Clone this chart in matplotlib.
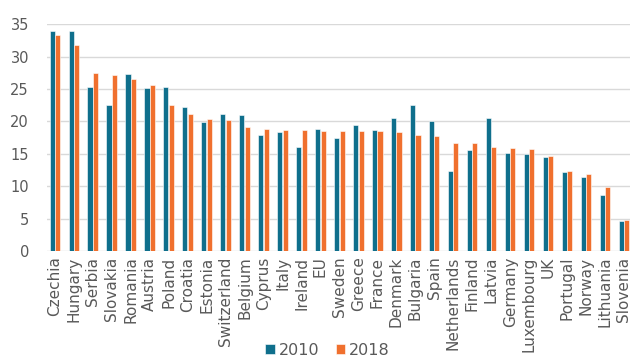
import matplotlib
matplotlib.use("Agg")
import matplotlib.pyplot as plt
import numpy as np

countries = ["Czechia", "Hungary", "Serbia", "Slovakia", "Romania", "Austria",
             "Poland", "Croatia", "Estonia", "Switzerland", "Belgium", "Cyprus",
             "Italy", "Ireland", "EU", "Sweden", "Greece", "France", "Denmark",
             "Bulgaria", "Spain", "Netherlands", "Finland", "Latvia", "Germany",
             "Luxembourg", "UK", "Portugal", "Norway", "Lithuania", "Slovenia"]

vals_2010 = [33.9, 34.0, 25.3, 22.6, 27.3, 25.2, 25.3, 22.3, 19.9, 21.2, 21.0,
             17.9, 18.4, 16.1, 18.8, 17.4, 19.5, 18.7, 20.6, 22.5, 20.1, 12.3,
             15.6, 20.5, 15.2, 14.9, 14.5, 12.2, 11.4, 8.6, 4.7]
vals_2018 = [33.4, 31.8, 27.5, 27.1, 26.5, 25.6, 22.6, 21.2, 20.4, 20.2, 19.2,
             18.9, 18.7, 18.7, 18.6, 18.5, 18.5, 18.5, 18.4, 17.9, 17.7, 16.6,
             16.6, 16.0, 15.9, 15.8, 14.7, 12.4, 11.9, 9.9, 4.8]

col_2010 = "#0f6f8c"
col_2018 = "#f0702e"
text_col = "#595959"

fig = plt.figure(figsize=(6.3, 3.58), dpi=100)
ax = fig.add_axes([47 / 630, 1 - 251 / 358, 583 / 630, (251 - 24.3) / 358])

x = np.arange(len(countries))
w = 0.27
ax.bar(x - 0.15, vals_2010, width=w, color=col_2010, edgecolor="white",
       linewidth=0.4, label="2010", zorder=3)
ax.bar(x + 0.14, vals_2018, width=w, color=col_2018, edgecolor="white",
       linewidth=0.4, label="2018", zorder=3)

ax.set_ylim(0, 35)
ax.set_xlim(-0.42, len(countries) - 1 + 0.32)
ax.set_yticks(range(0, 36, 5))
ax.set_xticks(x)
ax.set_xticklabels(countries, rotation=90, fontsize=11, color=text_col)
ax.tick_params(axis="y", labelsize=10.5, colors=text_col, length=0, pad=13)
ax.tick_params(axis="x", length=0, pad=4)
ax.grid(axis="y", color="#d9d9d9", linewidth=1, zorder=0)
for s in ax.spines.values():
    s.set_visible(False)

fig.legend(loc="lower center", bbox_to_anchor=(0.52, -0.04), ncol=2,
           frameon=False, fontsize=11.5, handlelength=0.6, handleheight=0.6,
           handletextpad=0.25, columnspacing=1.0, labelcolor=text_col)

fig.savefig("out.png", dpi=100)
